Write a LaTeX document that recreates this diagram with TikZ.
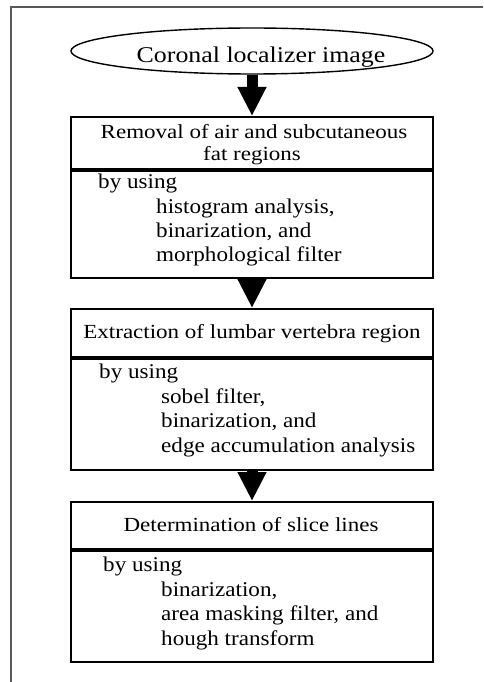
\documentclass[tikz,border=0pt]{standalone}
\usepackage{fontspec}
\usepackage{graphicx}
\setmainfont{Liberation Serif}
\usetikzlibrary{arrows.meta,shapes.geometric}
\newcommand{\bodyw}[1]{\scalebox{1.1}[1]{#1}}
\newcommand{\titlew}[1]{\scalebox{1.15}[1]{#1}}
\begin{document}
\begin{tikzpicture}[x=1pt,y=-1pt,
  txt/.style={inner sep=0pt, font=\fontsize{21}{24}\selectfont},
  ttl/.style={inner sep=0pt, anchor=base, font=\fontsize{20}{24}\selectfont},
  boxpart/.style={draw, line width=1.8pt, minimum width=362pt, inner sep=0pt, anchor=north},
  flow/.style={line width=11pt, -{Triangle[width=27pt,length=29pt]}}
]
\useasboundingbox (0,0) rectangle (483,682);
\draw[black!65, line width=1.5pt] (11,682) -- (11,7) -- (483,7);

% start ellipse
\node[ellipse, draw, line width=1.4pt, minimum width=362pt, minimum height=46pt, inner sep=0pt] (start) at (252,51) {};
\node[inner sep=0pt, anchor=base, font=\fontsize{22.5}{26}\selectfont] (starttxt) at (261,63) {\titlew{Coronal localizer image}};

% box 1
\node[boxpart, minimum height=52pt] (t1) at (252,116) {};
\node[boxpart, minimum height=107pt] (b1) at (t1.south) {};
\node[ttl] (t1a) at (254,139) {\titlew{Removal of air and subcutaneous}};
\node[ttl] (t1b) at (252,160) {\titlew{fat regions}};
\node[txt, anchor=base west] (b1a) at (98,188) {\bodyw{by using}};
\node[txt, anchor=base west] (b1b) at (156,213) {\bodyw{histogram analysis,}};
\node[txt, anchor=base west] (b1c) at (156,237) {\bodyw{binarization, and}};
\node[txt, anchor=base west] (b1d) at (156,261) {\bodyw{morphological filter}};

% box 2
\node[boxpart, minimum height=48pt] (t2) at (252,308) {};
\node[boxpart, minimum height=111pt] (b2) at (t2.south) {};
\node[ttl] (t2a) at (252,338) {\titlew{Extraction of lumbar vertebra region}};
\node[txt, anchor=base west] (b2a) at (99,378) {\bodyw{by using}};
\node[txt, anchor=base west] (b2b) at (161,403) {\bodyw{sobel filter,}};
\node[txt, anchor=base west] (b2c) at (161,427) {\bodyw{binarization, and}};
\node[txt, anchor=base west] (b2d) at (161,452) {\bodyw{edge accumulation analysis}};

% box 3
\node[boxpart, minimum height=47pt] (t3) at (252,501) {};
\node[boxpart, minimum height=111pt] (b3) at (t3.south) {};
\node[ttl] (t3a) at (251,531) {\titlew{Determination of slice lines}};
\node[txt, anchor=base west] (b3a) at (103,571) {\bodyw{by using}};
\node[txt, anchor=base west] (b3b) at (161,596) {\bodyw{binarization,}};
\node[txt, anchor=base west] (b3c) at (161,620) {\bodyw{area masking filter, and}};
\node[txt, anchor=base west] (b3d) at (161,645) {\bodyw{hough transform}};

% arrows
\draw[flow] (start.south) -- (t1.north);
\draw[flow] (b1.south) -- (t2.north);
\draw[flow] (b2.south) -- (t3.north);
\end{tikzpicture}
\end{document}
